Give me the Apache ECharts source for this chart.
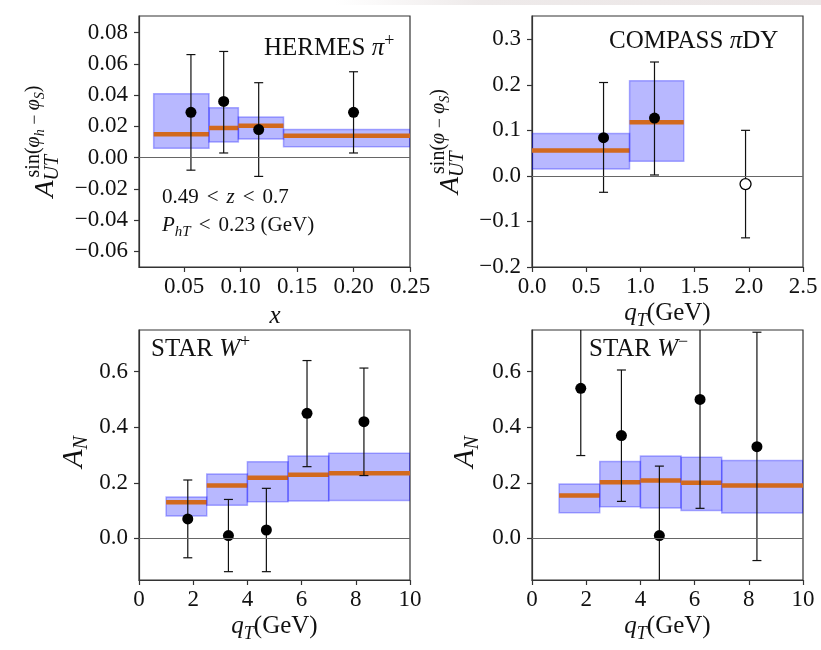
<!DOCTYPE html>
<html>
<head>
<meta charset="utf-8" />
<title>Sivers asymmetries</title>
<script src="https://cdn.jsdelivr.net/npm/echarts@6/dist/echarts.min.js"></script>
<style>
  html, body { margin: 0; padding: 0; background: #fff; }
  #chart { width: 821px; height: 650px; }
</style>
</head>
<body>
<div id="chart"></div>
<script type="text/javascript">
// ---- data ----
// HERMES pi+ (x)
var hermesX = [0.056, 0.085, 0.116, 0.200];
var hermesY = [0.029, 0.036, 0.018, 0.029];
var hermesLo = [-0.008, 0.003, -0.012, 0.003];
var hermesHi = [0.066, 0.068, 0.048, 0.055];
var hermesBins = [0.023, 0.072, 0.098, 0.138, 0.25];
var hermesBandLo = [0.006, 0.010, 0.012, 0.007];
var hermesBandHi = [0.041, 0.032, 0.026, 0.018];
var hermesFit = [0.015, 0.019, 0.0205, 0.014];
var hermesXTicks = [0.05, 0.10, 0.15, 0.20, 0.25];
var hermesYTicks = [-0.06, -0.04, -0.02, 0, 0.02, 0.04, 0.06, 0.08];

// COMPASS pi DY (qT)
var compassX = [0.66, 1.13, 1.97];
var compassY = [0.084, 0.127, -0.018];
var compassLo = [-0.036, 0.002, -0.136];
var compassHi = [0.205, 0.250, 0.100];
var compassFilled = [true, true, false];
var compassBins = [0, 0.9, 1.4];
var compassBandLo = [0.015, 0.032];
var compassBandHi = [0.093, 0.209];
var compassFit = [0.056, 0.118];
var compassXTicks = [0, 0.5, 1.0, 1.5, 2.0, 2.5];
var compassYTicks = [-0.2, -0.1, 0, 0.1, 0.2, 0.3];

// STAR W+ / W- (qT)
var starX = [1.8, 3.3, 4.7, 6.2, 8.3];
var wpY = [0.07, 0.01, 0.03, 0.45, 0.42];
var wpLo = [-0.07, -0.12, -0.12, 0.258, 0.226];
var wpHi = [0.21, 0.14, 0.18, 0.64, 0.613];
var wmY = [0.54, 0.37, 0.01, 0.50, 0.33];
var wmLo = [0.298, 0.133, -0.24, 0.108, -0.08];
var wmHi = [0.78, 0.606, 0.26, 0.89, 0.742];
var starBins = [1, 2.5, 4, 5.5, 7, 10];
var wpBandLo = [0.080, 0.119, 0.132, 0.134, 0.136];
var wpBandHi = [0.149, 0.232, 0.276, 0.296, 0.306];
var wpFit = [0.130, 0.190, 0.218, 0.229, 0.234];
var wmBandLo = [0.092, 0.114, 0.109, 0.100, 0.091];
var wmBandHi = [0.196, 0.277, 0.296, 0.292, 0.280];
var wmFit = [0.154, 0.202, 0.208, 0.200, 0.190];
var starXTicks = [0, 2, 4, 6, 8, 10];
var starYTicks = [0, 0.2, 0.4, 0.6];

// ---- helpers ----
var FONT = 'Liberation Serif';
var INK = '#111';
var measureCtx = document.createElement('canvas').getContext('2d');

function fmt(dec) {
    return function (v) { return v.toFixed(dec).replace('-', '\u2212'); };
}

function bandData(bins, lo, hi, fit) {
    return fit.map(function (f, k) { return [bins[k], bins[k + 1], lo[k], hi[k], f]; });
}
function errData(xs, lo, hi) {
    return xs.map(function (x, k) { return [x, lo[k], hi[k]]; });
}
function pointData(xs, ys, filled) {
    return xs.map(function (x, k) {
        if (filled && !filled[k]) {
            return { value: [x, ys[k]], itemStyle: { color: '#fff', borderColor: '#000', borderWidth: 1.3 } };
        }
        return [x, ys[k]];
    });
}

function renderBand(params, api) {
    var a = api.coord([api.value(0), api.value(3)]);
    var b = api.coord([api.value(1), api.value(2)]);
    var f0 = api.coord([api.value(0), api.value(4)]);
    var f1 = api.coord([api.value(1), api.value(4)]);
    return {
        type: 'group',
        children: [
            { type: 'rect', shape: { x: a[0], y: a[1], width: b[0] - a[0], height: b[1] - a[1] },
              style: { fill: 'rgba(0,0,255,0.28)', stroke: 'rgba(0,0,255,0.3)', lineWidth: 1.5 } },
            { type: 'line', shape: { x1: f0[0], y1: f0[1], x2: f1[0], y2: f1[1] },
              style: { stroke: '#d2691e', lineWidth: 4.5 } }
        ]
    };
}

function renderErr(params, api) {
    var top = api.coord([api.value(0), api.value(2)]);
    var bot = api.coord([api.value(0), api.value(1)]);
    var c = 4.5;
    var st = { stroke: '#111', lineWidth: 1.2 };
    return {
        type: 'group',
        children: [
            { type: 'line', shape: { x1: top[0], y1: top[1], x2: bot[0], y2: bot[1] }, style: st },
            { type: 'line', shape: { x1: top[0] - c, y1: top[1], x2: top[0] + c, y2: top[1] }, style: st },
            { type: 'line', shape: { x1: bot[0] - c, y1: bot[1], x2: bot[0] + c, y2: bot[1] }, style: st }
        ]
    };
}

function xAxisOf(i, min, max, ticks, dec) {
    return {
        type: 'value', gridIndex: i, min: min, max: max,
        axisLine: { show: true, onZero: false, lineStyle: { color: '#333', width: 1.2 } },
        axisTick: { show: true, customValues: ticks, length: 5, lineStyle: { color: '#333', width: 1.2 } },
        axisLabel: { customValues: ticks, formatter: fmt(dec), fontFamily: FONT, fontSize: 23, color: INK, margin: 8 },
        splitLine: { show: false }
    };
}
function yAxisOf(i, min, max, ticks, dec) {
    return {
        type: 'value', gridIndex: i, min: min, max: max,
        axisLine: { show: true, onZero: false, lineStyle: { color: '#333', width: 1.2 } },
        axisTick: { show: true, customValues: ticks, length: 5, lineStyle: { color: '#333', width: 1.2 } },
        axisLabel: { customValues: ticks, formatter: fmt(dec), fontFamily: FONT, fontSize: 23, color: INK, margin: 11 },
        splitLine: { show: false }
    };
}

function panelSeries(i, bands, errs, pts) {
    return [
        { type: 'custom', xAxisIndex: i, yAxisIndex: i, data: bands, renderItem: renderBand,
          encode: { x: [0, 1], y: [2, 3, 4] }, clip: true, z: 2, silent: true },
        { type: 'custom', xAxisIndex: i, yAxisIndex: i, data: errs, renderItem: renderErr,
          encode: { x: 0, y: [1, 2] }, clip: true, z: 3, silent: true },
        { type: 'scatter', xAxisIndex: i, yAxisIndex: i, data: pts, symbolSize: 11, clip: true, z: 4,
          itemStyle: { color: '#000', opacity: 1 },
          markLine: { silent: true, symbol: 'none', label: { show: false },
                      lineStyle: { color: '#666', width: 1, type: 'solid' }, data: [{ yAxis: 0 }] } }
    ];
}

// math-like text built from pieces: t text, s size, it italic, dy baseline shift, g gap, stack restart at previous piece
function mathLabel(parts, x, y, align, vertical) {
    var cx = 0, maxX = 0, prevStart = 0, kids = [];
    parts.forEach(function (p) {
        if (p.g) { cx += p.g; return; }
        if (p.stack) cx = prevStart + (p.stack > 1 ? p.stack : 0);
        var style = p.it ? 'italic' : 'normal';
        measureCtx.font = style + ' ' + p.s + 'px "' + FONT + '"';
        var w = measureCtx.measureText(p.t).width;
        kids.push({ type: 'text', x: cx, y: (p.dy || 0) - 0.34 * p.s,
            style: { text: p.t, fontFamily: FONT, fontSize: p.s, fontStyle: style, fill: INK,
                     align: 'left', verticalAlign: 'middle' } });
        prevStart = cx; cx += w; maxX = Math.max(maxX, cx);
    });
    var off = align === 'center' ? maxX / 2 : (align === 'right' ? maxX : 0);
    if (vertical) {
        return { type: 'group', x: x, y: y + off, rotation: Math.PI / 2, children: kids, silent: true };
    }
    return { type: 'group', x: x - off, y: y, children: kids, silent: true };
}

var sivH = [{ t: 'A', s: 28, it: 1 }, { t: 'UT', s: 20, it: 1, dy: 5 },
    { t: 'sin(', s: 20, dy: -14, stack: 3 }, { t: '\u03c6', s: 20, it: 1, dy: -14 },
    { t: 'h', s: 14, it: 1, dy: -10 }, { t: ' \u2212 ', s: 18, dy: -14 },
    { t: '\u03c6', s: 20, it: 1, dy: -14 }, { t: 'S', s: 14, it: 1, dy: -10 }, { t: ')', s: 20, dy: -14 }];
var sivD = [{ t: 'A', s: 28, it: 1 }, { t: 'UT', s: 20, it: 1, dy: 5 },
    { t: 'sin(', s: 20, dy: -14, stack: 3 }, { t: '\u03c6', s: 20, it: 1, dy: -14 },
    { t: ' \u2212 ', s: 18, dy: -14 }, { t: '\u03c6', s: 20, it: 1, dy: -14 },
    { t: 'S', s: 14, it: 1, dy: -10 }, { t: ')', s: 20, dy: -14 }];
var aN = [{ t: 'A', s: 30, it: 1 }, { t: 'N', s: 20, it: 1, dy: 5 }];
var qT = [{ t: 'q', s: 25, it: 1 }, { t: 'T', s: 18, it: 1, dy: 5 }, { t: '(GeV)', s: 25 }];

var graphics = [
    { type: 'rect', left: 335, top: 0, shape: { width: 486, height: 5 }, silent: true,
      style: { fill: new echarts.graphic.LinearGradient(0, 0, 1, 0, [
          { offset: 0, color: '#ffffff' }, { offset: 0.3, color: '#eeeaea' }, { offset: 1, color: '#ece6e6' }]) } },
    mathLabel(sivH, 55, 141.5, 'center', true),
    mathLabel(sivD, 460, 141.5, 'center', true),
    mathLabel(aN, 84, 452, 'center', true),
    mathLabel(aN, 475, 452, 'center', true),
    mathLabel([{ t: 'x', s: 25, it: 1 }], 275, 325, 'center'),
    mathLabel(qT, 667.5, 322, 'center'),
    mathLabel(qT, 274.5, 635, 'center'),
    mathLabel(qT, 667.5, 635, 'center'),
    mathLabel([{ t: 'HERMES ', s: 25 }, { t: '\u03c0', s: 25, it: 1 }, { t: '+', s: 18, dy: -10 }], 264, 57),
    mathLabel([{ t: 'COMPASS ', s: 25 }, { t: '\u03c0', s: 25, it: 1 }, { t: 'DY', s: 25 }], 609, 50),
    mathLabel([{ t: 'STAR ', s: 25 }, { t: 'W', s: 25, it: 1 }, { t: '+', s: 18, dy: -10 }], 151, 358),
    mathLabel([{ t: 'STAR ', s: 25 }, { t: 'W', s: 25, it: 1 }, { t: '\u2212', s: 18, dy: -10 }], 589, 358),
    mathLabel([{ t: '0.49', s: 21 }, { g: 8 }, { t: '<', s: 21 }, { g: 8 }, { t: 'z', s: 21, it: 1 },
               { g: 8 }, { t: '<', s: 21 }, { g: 8 }, { t: '0.7', s: 21 }], 162, 205),
    mathLabel([{ t: 'P', s: 21, it: 1 }, { t: 'hT', s: 15, it: 1, dy: 4 }, { g: 8 }, { t: '<', s: 21 },
               { g: 8 }, { t: '0.23 (GeV)', s: 21 }], 162, 233)
];

var gridBox = { show: true, borderColor: '#333', borderWidth: 1.2, backgroundColor: 'transparent',
                containLabel: false, outerBoundsMode: 'none' };

var option = {
    animation: false,
    backgroundColor: '#fff',
    grid: [
        Object.assign({ left: 139, top: 16, width: 271, height: 251 }, gridBox),
        Object.assign({ left: 532, top: 16, width: 271, height: 251 }, gridBox),
        Object.assign({ left: 139, top: 330, width: 271, height: 250 }, gridBox),
        Object.assign({ left: 532, top: 330, width: 271, height: 250 }, gridBox)
    ],
    xAxis: [
        xAxisOf(0, 0.01, 0.25, hermesXTicks, 2),
        xAxisOf(1, 0, 2.5, compassXTicks, 1),
        xAxisOf(2, 0, 10, starXTicks, 0),
        xAxisOf(3, 0, 10, starXTicks, 0)
    ],
    yAxis: [
        yAxisOf(0, -0.07, 0.0907, hermesYTicks, 2),
        yAxisOf(1, -0.2, 0.351, compassYTicks, 1),
        yAxisOf(2, -0.15, 0.75, starYTicks, 1),
        yAxisOf(3, -0.15, 0.75, starYTicks, 1)
    ],
    series: [].concat(
        panelSeries(0, bandData(hermesBins, hermesBandLo, hermesBandHi, hermesFit),
                    errData(hermesX, hermesLo, hermesHi), pointData(hermesX, hermesY)),
        panelSeries(1, bandData(compassBins, compassBandLo, compassBandHi, compassFit),
                    errData(compassX, compassLo, compassHi), pointData(compassX, compassY, compassFilled)),
        panelSeries(2, bandData(starBins, wpBandLo, wpBandHi, wpFit),
                    errData(starX, wpLo, wpHi), pointData(starX, wpY)),
        panelSeries(3, bandData(starBins, wmBandLo, wmBandHi, wmFit),
                    errData(starX, wmLo, wmHi), pointData(starX, wmY))
    ),
    graphic: graphics
};

var myChart = echarts.init(document.getElementById('chart'));
myChart.setOption(option);
</script>
</body>
</html>
